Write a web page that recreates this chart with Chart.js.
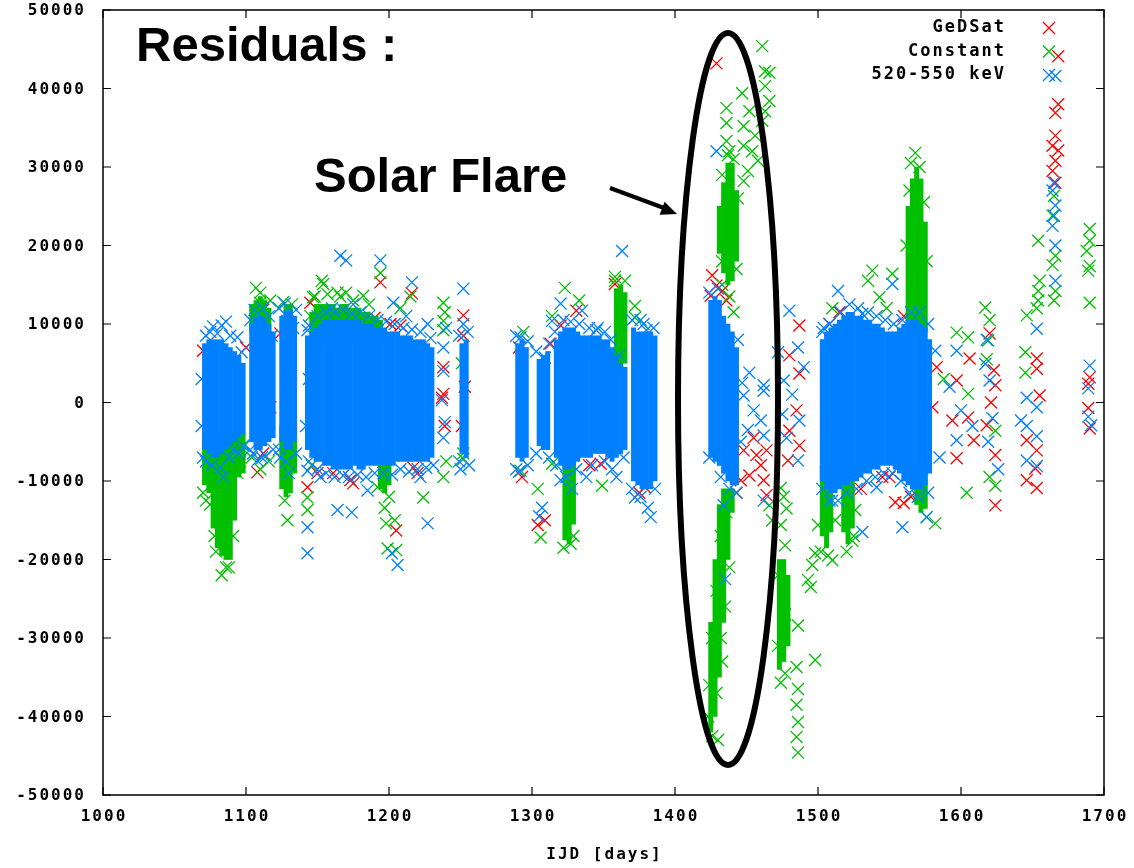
<!DOCTYPE html>
<html>
<head>
<meta charset="utf-8">
<title>Residuals</title>
<script src="https://cdn.jsdelivr.net/npm/chart.js@4/dist/chart.umd.min.js"></script>
<style>
  html, body { margin: 0; padding: 0; background: #fff; }
  #wrap { width: 1134px; height: 868px; }
</style>
</head>
<body>
<div id="wrap"><canvas id="myChart"></canvas></div>
<script>
// ejes
const xTicks = [1000, 1100, 1200, 1300, 1400, 1500, 1600, 1700];
const yTicks = [-50000, -40000, -30000, -20000, -10000, 0, 10000, 20000, 30000, 40000, 50000];
const xTitle = 'IJD [days]';
const seriesNames = ['GeDSat', 'Constant', '520-550 keV'];

// puntos sueltos [IJD, residuo]
const gedsatPoints = [
    [1070, 6600], [1092, 5300], [1094, -7000], [1080, -7500], [1100, 7000], [1086, -7000],
    [1108, -8900], [1117, -600], [1112, 11800], [1112, -6500],
    [1124, 8800], [1129, 10400],
    [1145, 12700], [1143, -10800], [1150, -9000], [1190, 10800], [1220, -9000],
    [1194, 15300], [1216, 13900], [1208, 9800], [1205, -16300], [1175, -10300], [1161, -9000],
    [1173, -9900], [1217, -8300], [1159, 10800], [1175, 10400], [1201, 10000],
    [1238, 4500], [1238, 1100], [1237, 600], [1239, -3000],
    [1252, 11100], [1251, -3000], [1253, 2000], [1252, 8500],
    [1293, -9500], [1291, 7000],
    [1304, -15600], [1309, -15000],
    [1313, 7500], [1331, 11700], [1339, 6200], [1348, -7800], [1358, 15100], [1320, 9800], [1340, -8000],
    [1379, -10800], [1375, -11500],
    [1429, 43200], [1426, 16200], [1429, 14900], [1433, 14200], [1425, 13600], [1436, 13000],
    [1448, -6100], [1457, -6700], [1464, -6100], [1452, -9300], [1462, -9900], [1464, -11800],
    [1446, -9900], [1460, -8000], [1455, -4500], [1443, -11500],
    [1487, 9800], [1480, 6000], [1487, 3700], [1485, -1000], [1480, -3600], [1487, -5500], [1479, -7400],
    [1508, 10000], [1554, -12700], [1550, -9500], [1560, -12800], [1515, 11500], [1545, -9500],
    [1565, -12000], [1530, -11000], [1560, 11000],
    [1606, 5600], [1597, 2800], [1594, -2300], [1597, -7100], [1583, 4500], [1580, -600],
    [1605, -1900], [1609, -4800],
    [1620, 8800], [1623, 4100], [1624, 2200], [1618, -2900], [1624, -6700], [1621, 0], [1624, -13100],
    [1653, 5600], [1653, 4300], [1655, 900], [1646, -4800], [1653, -6100], [1652, -8400],
    [1646, -9900], [1653, -10900],
    [1666, 36900], [1668, 38000], [1666, 34000], [1664, 32700], [1668, 32100], [1666, 30800],
    [1664, 29500], [1666, 28000], [1668, 44100],
    [1690, 3200], [1689, 2400], [1689, -700], [1690, -3300]
];

const constantPoints = [
    [1083, -22000], [1086, -21000], [1078, -17000], [1072, -12500], [1094, -9000], [1096, -7500], [1099, -5500],
    [1075, -13000], [1079, -19000], [1088, -21000], [1091, -17000], [1070, -11500],
    [1110, 14000], [1107, 14600], [1110, 12700], [1117, 13000], [1104, -7000], [1110, -8500], [1116, -7500],
    [1129, -15000], [1126, 12800], [1132, 12500], [1127, -12500],
    [1143, -12100], [1143, -13700], [1145, 11000], [1154, 15100], [1147, 13400],
    [1153, 15500], [1164, 14000], [1170, 14000], [1182, 13600], [1194, 16500], [1215, 13500],
    [1148, 13500], [1157, 13800], [1166, 13500], [1175, 13000], [1186, 12500],
    [1197, -13400], [1198, -15400], [1205, -18800], [1224, -12100], [1192, -10800], [1208, 12000],
    [1200, -12000], [1204, -15000], [1199, -18600], [1146, -8000],
    [1238, 12700], [1238, 10400], [1238, 9200], [1239, 11500], [1240, -7500], [1238, -9500],
    [1252, -6500], [1252, -7200], [1251, 5000],
    [1292, -8700], [1294, 9000],
    [1306, -17200], [1314, -7800], [1304, -11000],
    [1323, 14600], [1314, 11000], [1327, -18000], [1349, -10600], [1358, 15500], [1372, 12300],
    [1372, 10800], [1333, 13000], [1322, -18500], [1329, -17000], [1358, 16000], [1365, 15500],
    [1436, 37500], [1436, 35600], [1436, 33300], [1438, 32000],
    [1447, 39400], [1452, 37100], [1448, 35200], [1456, 34000], [1448, 32700], [1454, 32000],
    [1458, 30800], [1451, 29500], [1448, 28200],
    [1461, 45400], [1463, 42200], [1466, 42000], [1463, 40300], [1466, 38400], [1463, 37100], [1461, 35900],
    [1433, 29000], [1437, 31500], [1441, 31000], [1444, 26000], [1433, 18000], [1443, 17000],
    [1433, 15000], [1438, 13500], [1441, 11500], [1430, -43000], [1426, -42500], [1433, -33000],
    [1423, -40000], [1424, -36000], [1426, -30000], [1429, -24000], [1432, -17000], [1436, -14000],
    [1438, -21000], [1435, -26000], [1432, -30000], [1429, -37000],
    [1466, -13100], [1468, -15000], [1474, -10900], [1476, -12000], [1478, -13500], [1474, -15600],
    [1477, -18200], [1474, -35700], [1486, -28400], [1485, -33700], [1486, -36500], [1485, -38500],
    [1486, -40700], [1485, -42600], [1486, -44600], [1498, -32800],
    [1472, -22000], [1477, -27000], [1472, -31000], [1477, -34500],
    [1510, 12000], [1538, 16800], [1552, 16400], [1543, 13400], [1535, 15500], [1548, 12000],
    [1493, -22600], [1498, -19200], [1496, -20700], [1500, -15600], [1512, -15000], [1510, -20100],
    [1524, -17600], [1526, -13700], [1495, -23500], [1582, -15400], [1576, -14600],
    [1502, -19000], [1507, -19500], [1520, -19000], [1525, -17000],
    [1568, 31800], [1565, 30500], [1571, 30000], [1564, 27000], [1574, 25500], [1562, 20000], [1576, 18000],
    [1597, 8900], [1605, 8300], [1605, 1100], [1588, 3000], [1604, -11500],
    [1617, 12100], [1620, 10500], [1619, 7900], [1618, 5500], [1624, -3600], [1624, -10600], [1620, -9500],
    [1654, 20600], [1655, 15500], [1654, 14200], [1654, 13000], [1646, 11100], [1653, 12000],
    [1645, 6400], [1645, 3800],
    [1665, 26300], [1664, 23800], [1666, 18700], [1664, 17500], [1666, 14200], [1665, 13000],
    [1690, 22100], [1690, 20600], [1688, 19300], [1690, 17400], [1689, 16800], [1690, 12700]
];

const kevPoints = [
    [1077, 9700], [1083, 9800], [1086, 10300], [1094, 8300], [1097, 6400], [1082, -8300], [1084, -9500],
    [1070, -7000], [1095, -6500], [1098, -5500],
    [1072, 8500], [1075, 9000], [1080, 8800], [1089, 8500], [1072, -7500], [1076, -8000], [1088, -7000],
    [1091, -6000], [1069, 3000], [1069, -3000],
    [1108, -7400], [1105, -6500], [1114, -6800], [1118, 8500],
    [1103, 10500], [1106, 11800], [1112, 12000], [1116, 11000], [1103, -6000], [1111, -7000], [1119, -6000],
    [1124, -7000], [1130, -9000], [1133, 9500],
    [1123, 12000], [1127, 12600], [1135, 11800], [1123, -6000], [1128, -7500], [1135, -6500],
    [1143, 9200], [1143, -8700], [1143, -15900], [1143, -19200], [1144, 3000], [1142, -3000],
    [1166, 18700], [1170, 18100], [1194, 18100], [1216, 15300], [1203, 12700], [1227, 10000],
    [1164, -13700], [1174, -14000], [1206, -20700], [1202, -19200], [1227, -15400], [1185, -11200],
    [1152, -9500], [1212, 11000], [1222, -9500], [1160, 12000], [1175, 12500],
    [1144, 9800], [1150, 11000], [1156, 11500], [1162, 11500], [1168, 11800], [1174, 11300], [1180, 11500],
    [1186, 11000], [1192, 10500], [1198, 10300], [1204, 10000], [1210, 9500], [1216, 9300], [1222, 9000],
    [1229, 8200],
    [1144, -7500], [1150, -8500], [1156, -9000], [1162, -9500], [1168, -9300], [1172, -9500], [1178, -9200],
    [1184, -9500], [1190, -9000], [1196, -9000], [1202, -9200], [1208, -8500], [1214, -8800], [1220, -8500],
    [1226, -8300], [1231, -8000],
    [1238, 7000], [1238, 4000], [1237, 300], [1239, -2500], [1238, -4500], [1240, 9500],
    [1252, 14500], [1252, 10000], [1250, -8500],
    [1249, 8500], [1255, 9000], [1249, -7500], [1256, -8000],
    [1292, 8300], [1291, -8800], [1289, 8500], [1297, 7800], [1289, -8500], [1297, -8000],
    [1307, -13400], [1305, -14500], [1309, 5700], [1303, 6500], [1312, 7500], [1303, -6500], [1312, -7000],
    [1320, 12600], [1314, 10400], [1335, 11700], [1345, 9200], [1320, -9900], [1338, -9500],
    [1359, -9500], [1363, 19300], [1328, -11000],
    [1316, 9000], [1322, 10500], [1327, 10300], [1333, 10000], [1340, 9500], [1346, 9500], [1351, 9000],
    [1355, 8000], [1361, 6000],
    [1317, -8000], [1324, -9500], [1331, -8500], [1342, -8000], [1351, -7500], [1356, -8500], [1364, -7000],
    [1380, 9200], [1381, -13400], [1383, -14600], [1372, -12100], [1376, 10500],
    [1370, 10500], [1378, 10000], [1385, 9500], [1370, -11000], [1376, -12000], [1386, -11000],
    [1429, 32000], [1452, 3800], [1462, 1500], [1448, 900], [1455, -1000], [1460, -2300],
    [1451, -3500], [1462, -4200], [1446, -5000], [1462, -12500], [1435, -22500], [1434, -13100],
    [1462, 2200], [1447, 2500],
    [1424, 14000], [1430, 14500], [1424, -7000], [1432, -9500], [1438, -11000], [1443, -11500], [1444, 8000],
    [1472, 6400], [1480, 11700], [1486, 7000], [1476, 2800], [1482, 1000], [1487, -2300],
    [1478, -4500], [1486, -7400], [1490, 4500], [1475, -1500],
    [1514, 14200], [1552, 15100], [1531, 11300], [1531, -16500], [1559, -15900], [1541, -10800],
    [1576, -14600], [1504, 9500], [1510, -12500],
    [1503, 9000], [1508, 10000], [1516, 11500], [1522, 12500], [1528, 12000], [1535, 11500], [1541, 11000],
    [1547, 10500], [1553, 10000], [1559, 10500], [1565, 11500], [1571, 11500], [1577, 10000],
    [1503, -11000], [1508, -12500], [1514, -12500], [1520, -11500], [1527, -11000], [1534, -10000],
    [1540, -9500], [1546, -9000], [1552, -9000], [1558, -10000], [1564, -11500], [1570, -12000], [1577, -11500],
    [1582, 6600], [1597, 6600], [1600, -1000], [1597, -4800], [1585, -7000], [1592, 2000], [1608, -3000],
    [1618, 8000], [1617, 4900], [1620, 2800], [1622, -2000], [1619, -5000], [1626, -8500],
    [1653, 9400], [1646, 600], [1653, -600], [1642, -2300], [1646, -3000], [1653, -4300],
    [1646, -7400], [1653, -8100],
    [1666, 41600], [1665, 28000], [1664, 27000], [1666, 25100], [1664, 22500], [1666, 20000],
    [1665, 23800], [1666, 15500],
    [1690, 4700], [1689, 1800], [1689, -1800], [1691, -2900]
];

// nubes densas, bins de 3 dias [IJD, min, max]
const constantBands = [
    [1071, -10500, -4000], [1074, -11500, -4000], [1077, -16000, -4000], [1080, -18500, -4000],
    [1083, -19500, -4000], [1086, -20000, -4000], [1089, -20000, -4000], [1092, -15000, -4000],
    [1095, -9500, -4000], [1098, -9000, -4000],
    [1104, 9000, 12500], [1107, 9000, 13000], [1110, 9000, 13500], [1113, 9000, 13000], [1116, 9000, 12000],
    [1128, 10000, 12500], [1131, 10000, 12500],
    [1125, -11000, -3000], [1128, -12000, -3000], [1131, -11500, -3000], [1134, -9000, -3000],
    [1146, 8000, 11500], [1149, 8000, 12500], [1152, 8000, 12500], [1155, 8000, 12500], [1158, 8000, 12500],
    [1161, 8000, 12500], [1164, 8000, 12000], [1167, 8000, 12500], [1170, 8000, 12500], [1173, 8000, 12000],
    [1176, 8000, 12000], [1179, 8000, 12000], [1182, 8000, 11500], [1185, 8000, 11500], [1188, 8000, 11000],
    [1191, 8000, 11000], [1194, 8000, 10500],
    [1194, -11000, -6000], [1197, -11500, -6000], [1200, -10500, -6000],
    [1323, -17500, -6000], [1326, -18000, -6000], [1329, -15500, -6000],
    [1359, 4000, 14500], [1362, 4000, 15000], [1365, 5000, 14000],
    [1431, 19000, 25000], [1434, 16500, 28000], [1437, 15000, 30500], [1440, 15500, 30500], [1443, 18000, 27000],
    [1425, -42000, -28000], [1428, -40000, -20000], [1431, -35000, -13000], [1434, -28000, -11000],
    [1437, -20000, -11000], [1440, -14000, -11000],
    [1473, -34000, -20000], [1476, -33000, -20000], [1479, -31000, -22000],
    [1503, -17000, -8000], [1506, -18500, -8000], [1509, -16500, -8000],
    [1518, -16500, -8000], [1521, -18000, -8000], [1524, -16000, -8000],
    [1563, 9000, 25000], [1566, 9000, 28500], [1569, 9000, 30000], [1572, 9000, 28500], [1575, 9000, 23000],
    [1569, -13000, -8000], [1572, -14000, -8000], [1575, -13500, -8000]
];

const kevBands = [
    [1071, -6000, 7500], [1074, -6500, 8000], [1077, -7000, 8000], [1080, -7000, 8000], [1083, -6500, 8000],
    [1086, -6000, 7500], [1089, -5500, 7000], [1092, -5000, 6500], [1095, -4500, 6000], [1098, -4000, 5000],
    [1104, -5000, 10000], [1107, -6000, 10800], [1110, -6000, 11000], [1113, -5500, 10800],
    [1116, -5000, 10000], [1119, -4500, 9000],
    [1125, -5000, 11000], [1128, -6000, 11700], [1131, -6000, 11700], [1134, -5000, 11000],
    [1143, -6000, 8500], [1146, -7000, 9000], [1149, -7500, 9500], [1152, -7500, 10000], [1155, -8000, 10500],
    [1158, -8000, 10500], [1161, -8500, 10500], [1164, -8500, 10500], [1167, -8500, 10500], [1170, -8500, 10500],
    [1173, -8500, 10500], [1176, -8000, 10500], [1179, -8500, 10500], [1182, -8500, 10000], [1185, -8000, 10000],
    [1188, -8000, 10000], [1191, -8000, 9500], [1194, -8000, 9500], [1197, -8000, 9500], [1200, -8000, 9000],
    [1203, -8000, 9000], [1206, -7500, 9000], [1209, -7500, 8500], [1212, -7500, 8500], [1215, -7500, 8500],
    [1218, -7500, 8000], [1221, -7500, 8000], [1224, -7500, 8000], [1227, -7500, 7500], [1230, -7000, 7000],
    [1251, -6500, 7500], [1254, -7000, 8000],
    [1290, -7000, 7500], [1293, -7500, 8000], [1296, -7000, 7000],
    [1305, -5500, 5500], [1308, -6000, 6000], [1311, -6000, 6500],
    [1317, -7000, 8000], [1320, -8000, 9000], [1323, -8500, 9500], [1326, -8500, 9500], [1329, -8000, 9500],
    [1332, -7500, 9000], [1335, -7000, 8500], [1338, -7000, 8500], [1341, -7000, 8500], [1344, -6500, 8500],
    [1347, -6500, 8500], [1350, -6500, 8000], [1353, -7000, 8000], [1356, -7500, 7000], [1359, -7000, 6000],
    [1362, -6500, 5000], [1365, -6000, 4500],
    [1371, -10000, 9500], [1374, -10500, 9000], [1377, -11000, 9000], [1380, -11000, 9000],
    [1383, -11000, 9000], [1386, -10000, 8500],
    [1425, -7000, 13000], [1428, -7500, 13500], [1431, -8000, 13000], [1434, -9000, 11000],
    [1437, -10000, 10000], [1440, -10500, 9000], [1443, -10500, 7000],
    [1503, -10000, 8000], [1506, -11000, 9000], [1509, -11500, 9500], [1512, -11500, 10000],
    [1515, -11000, 10500], [1518, -10500, 11000], [1521, -10500, 11500], [1524, -10000, 11500],
    [1527, -10000, 11000], [1530, -9500, 11000], [1533, -9000, 10500], [1536, -9000, 10500],
    [1539, -8500, 10000], [1542, -8500, 10000], [1545, -8000, 9500], [1548, -8000, 9000],
    [1551, -8000, 9000], [1554, -8500, 9000], [1557, -9000, 9500], [1560, -10000, 10000],
    [1563, -10500, 10500], [1566, -11000, 10500], [1569, -11000, 10500], [1572, -11000, 10000],
    [1575, -10500, 9500], [1578, -9000, 8000]
];

const colores = ['#ff0000', '#00c000', '#0080ff'];

// cruces
function cruces(label, pts, color, order) {
    return {
        type: 'scatter',
        label: label,
        data: pts.map(p => ({ x: p[0], y: p[1] })),
        pointStyle: 'crossRot',
        pointRadius: 8.5,
        pointHoverRadius: 8.5,
        borderColor: color,
        backgroundColor: color,
        borderWidth: 1.3,
        order: order
    };
}

// bandas densas
function bandas(label, rows, color, order) {
    return {
        type: 'bar',
        label: label,
        data: rows.map(r => ({ x: r[0], y: [r[1], r[2]] })),
        backgroundColor: color,
        borderWidth: 0,
        grouped: false,
        barPercentage: 1,
        categoryPercentage: 1,
        order: order
    };
}

// marco, ticks, leyenda y anotaciones
const marco = {
    id: 'marco',
    afterDatasetsDraw(chart) {
        const { ctx, chartArea: a, scales: { x, y } } = chart;
        ctx.save();

        ctx.strokeStyle = '#000';
        ctx.lineWidth = 1.5;
        ctx.strokeRect(a.left, a.top, a.right - a.left, a.bottom - a.top);

        ctx.lineWidth = 1.2;
        ctx.beginPath();
        xTicks.forEach(v => {
            const px = x.getPixelForValue(v);
            ctx.moveTo(px, a.bottom); ctx.lineTo(px, a.bottom - 8);
            ctx.moveTo(px, a.top); ctx.lineTo(px, a.top + 8);
        });
        yTicks.forEach(v => {
            const py = y.getPixelForValue(v);
            ctx.moveTo(a.left, py); ctx.lineTo(a.left + 8, py);
            ctx.moveTo(a.right, py); ctx.lineTo(a.right - 8, py);
        });
        ctx.stroke();

        ctx.fillStyle = '#000';
        ctx.font = 'bold 16px "DejaVu Sans Mono"';
        ctx.letterSpacing = '2px';
        ctx.textBaseline = 'middle';
        ctx.textAlign = 'right';
        yTicks.forEach(v => {
            ctx.fillText(String(v), a.left - 17, y.getPixelForValue(v) + 1);
        });
        ctx.textAlign = 'center';
        xTicks.forEach(v => {
            ctx.fillText(String(v), x.getPixelForValue(v) + 1, a.bottom + 22);
        });
        ctx.fillText(xTitle, (a.left + a.right) / 2 + 1, a.bottom + 60);

        // leyenda
        ctx.font = 'bold 17px "DejaVu Sans Mono"';
        ctx.textAlign = 'right';
        seriesNames.forEach((n, i) => {
            const ly = 28 + i * 23.5;
            ctx.fillStyle = '#000';
            ctx.fillText(n, 1006, ly);
            ctx.strokeStyle = colores[i];
            ctx.lineWidth = 1.3;
            ctx.beginPath();
            ctx.moveTo(1043, ly - 6); ctx.lineTo(1055, ly + 6);
            ctx.moveTo(1055, ly - 6); ctx.lineTo(1043, ly + 6);
            ctx.stroke();
        });

        // textos
        ctx.letterSpacing = '0px';
        ctx.fillStyle = '#000';
        ctx.textAlign = 'left';
        ctx.textBaseline = 'alphabetic';
        ctx.font = 'bold 49px "Liberation Sans", Arial, sans-serif';
        ctx.fillText('Residuals :', 136, 61);
        ctx.fillText('Solar Flare', 314, 192);

        // elipse
        ctx.strokeStyle = '#000';
        ctx.lineWidth = 6;
        ctx.beginPath();
        ctx.ellipse(728, 399, 50, 366, 0, 0, Math.PI * 2);
        ctx.stroke();

        // flecha
        ctx.lineWidth = 4;
        ctx.beginPath();
        ctx.moveTo(610, 188);
        ctx.lineTo(664, 208);
        ctx.stroke();
        ctx.beginPath();
        ctx.moveTo(677, 214);
        ctx.lineTo(659.6, 214.7);
        ctx.lineTo(664.6, 201.7);
        ctx.closePath();
        ctx.fill();

        ctx.restore();
    }
};

const ctx = document.getElementById('myChart').getContext('2d');
new Chart(ctx, {
    type: 'scatter',
    data: {
        datasets: [
            cruces(seriesNames[2], kevPoints, colores[2], 1),
            bandas(seriesNames[2], kevBands, colores[2], 2),
            cruces(seriesNames[1], constantPoints, colores[1], 3),
            bandas(seriesNames[1], constantBands, colores[1], 4),
            cruces(seriesNames[0], gedsatPoints, colores[0], 5)
        ]
    },
    options: {
        responsive: true,
        maintainAspectRatio: false,
        animation: false,
        layout: { padding: { left: 103, top: 10, right: 30, bottom: 73 } },
        plugins: {
            legend: { display: false },
            tooltip: { enabled: false }
        },
        scales: {
            x: { type: 'linear', display: false, min: 1000, max: 1700, offset: false },
            y: { type: 'linear', display: false, min: -50000, max: 50000 }
        }
    },
    plugins: [marco]
});
</script>
</body>
</html>
